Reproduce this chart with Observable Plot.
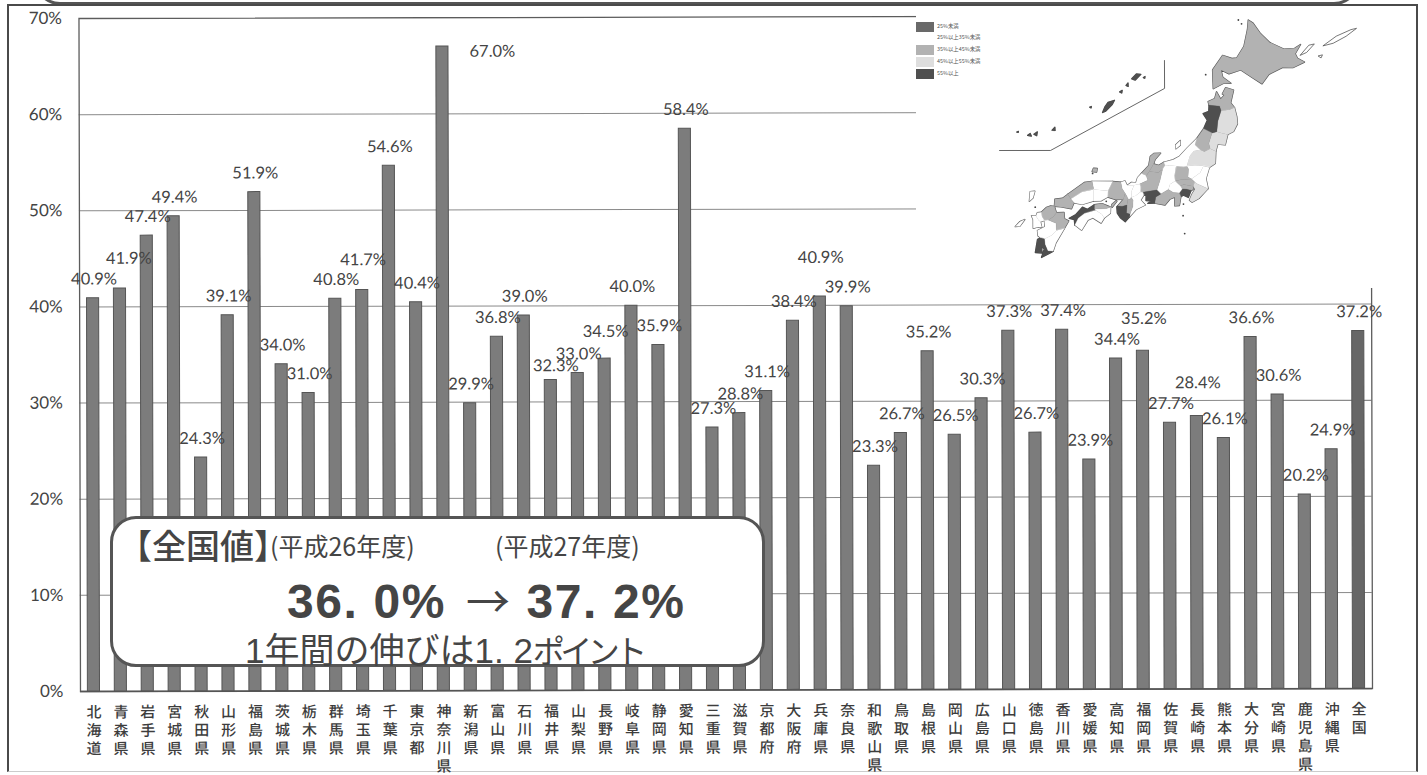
<!DOCTYPE html>
<html lang="ja">
<head>
<meta charset="utf-8">
<script src="https://cdn.jsdelivr.net/npm/d3@7"></script>
<script src="https://cdn.jsdelivr.net/npm/@observablehq/plot@0.6"></script>
<style>
  html, body { margin: 0; background: #fff; }
  #page { position: relative; width: 1427px; height: 775px; overflow: hidden; background: #fff;
          font-family: "Noto Sans CJK JP", sans-serif; color: #444; }
  #page svg { position: absolute; display: block; }
  #chart svg { left: 0; top: 0; transform-origin: 80px 691px; transform: rotate(-0.13deg); }
  #map svg { left: 916px; top: 6px; }
  .sheet { position: absolute; left: 7px; top: 4px; width: 1411px; height: 768px; box-sizing: border-box;
           border: 2px solid #4a4a4a; border-bottom: 1px solid #ccc; }
  .heading { position: absolute; left: 34px; top: -60px; width: 1326px; height: 65px; box-sizing: border-box;
             border: 3px solid #555; border-radius: 26px; background: #fff; }
  .callout { position: absolute; left: 110px; top: 516px; width: 655px; height: 151px; box-sizing: border-box;
             border: 3px solid #555; border-radius: 26px; background: #fff; }
  .note { position: absolute; white-space: pre; line-height: 1; color: #454545; }
  .key { position: absolute; left: 916px; width: 18px; height: 10px; }
  .keytext { position: absolute; left: 937px; font-size: 5.4px; line-height: 1; white-space: pre; color: #555; }
</style>
</head>
<body>
<div id="page">
  <div class="heading"></div>
  <div class="sheet"></div>
  <div id="chart"></div>
  <div id="map"></div>
  <div class="callout"></div>
  <div class="note" style="left:118px;top:528px;font-size:34px;font-weight:500">【全国値<span style="letter-spacing:-17px">】</span></div>
  <div class="note" style="left:270px;top:533px;font-size:25px">(平成26年度)</div>
  <div class="note" style="left:495px;top:533px;font-size:25px">(平成27年度)</div>
  <div class="note" style="left:287px;top:567px;font:bold 48px 'Liberation Sans',sans-serif;letter-spacing:1.6px">36. 0% <span style="font:400 44px 'Noto Sans CJK JP';margin-left:5px">→</span> 37. 2%</div>
  <div class="note" style="left:245px;top:622px;font:400 35px 'Liberation Sans','Noto Sans CJK JP',sans-serif">1年間の伸びは1. 2<span style="font-size:32px;letter-spacing:-4.5px">ポイント</span></div>
</div>
<script>
// Share of prefectural values by prefecture, with the national figure last.
const prefectures = ["北海道","青森県","岩手県","宮城県","秋田県","山形県","福島県","茨城県","栃木県","群馬県","埼玉県","千葉県","東京都","神奈川県","新潟県","富山県","石川県","福井県","山梨県","長野県","岐阜県","静岡県","愛知県","三重県","滋賀県","京都府","大阪府","兵庫県","奈良県","和歌山県","鳥取県","島根県","岡山県","広島県","山口県","徳島県","香川県","愛媛県","高知県","福岡県","佐賀県","長崎県","熊本県","大分県","宮崎県","鹿児島県","沖縄県","全国"];
const rates = [40.9,41.9,47.4,49.4,24.3,39.1,51.9,34.0,31.0,40.8,41.7,54.6,40.4,67.0,29.9,36.8,39.0,32.3,33.0,34.5,40.0,35.9,58.4,27.3,28.8,31.1,38.4,40.9,39.9,23.3,26.7,35.2,26.5,30.3,37.3,26.7,37.4,23.9,34.4,35.2,27.7,28.4,26.1,36.6,30.6,20.2,24.9,37.2];
const yTicks = [0,10,20,30,40,50,60,70];

// Value labels that sit away from the usual spot just above the bar: [dx, dy] in px.
const labelNudges = {"青森県":[8,-11],"埼玉県":[0,-11],"神奈川県":[49,24],"福井県":[4,5],"長野県":[0,-8],"兵庫県":[0,-20],"福岡県":[0,-13],"長崎県":[0,-14]};

// Map classes and their greys.
const classBreaks = [25,35,45,55];
const classGreys = ["#4f4f4f","#ffffff","#b2b2b2","#dedede","#4f4f4f"];
const keyGreys = ["#696969","#ffffff","#b2b2b2","#dedede","#4f4f4f"];
const classNames = ["25%未満","25%以上35%未満","35%以上45%未満","45%以上55%未満","55%以上"];

// Simplified prefecture outlines, "lon,lat" pairs.
const outlines = {
"北海道":"141.65,45.45 142,45.3 142.6,44.75 143.3,44.3 144.3,44 145,44.1 145.35,44.35 145.1,43.8 145.3,43.55 145.8,43.38 145.1,43 144.4,42.95 143.6,42.5 143.25,41.93 142.5,42.25 141.7,42.6 140.97,42.32 140.4,42.5 140.6,42.1 141.2,41.8 140.7,41.75 140.1,41.4 139.85,42.45 140.35,43.33 141,43.2 141.3,43.25 141.65,43.95 141.7,44.9",
"青森県":"140.35,41.25 140.7,40.85 140.9,41.1 140.75,41.15 140.9,41.53 141.45,41.43 141.4,40.7 141.7,40.45 141.4,40.3 140.85,40.2 140.7,40.45 140,40.45 139.9,40.65 140.3,40.85",
"岩手県":"141.7,40.45 141.95,39.95 142.07,39.55 141.9,39.1 141.55,38.9 141.1,38.95 140.8,39 140.75,39.6 140.85,40.2 141.4,40.3",
"宮城県":"141.55,38.9 141.5,38.3 141,38.3 140.95,37.9 140.55,38 140.4,38.3 140.5,38.9 140.8,39 141.1,38.95",
"秋田県":"140,40.45 140.7,40.45 140.85,40.2 140.75,39.6 140.8,39 140.5,38.9 139.9,39.1 140.05,39.6 139.7,39.95 140.05,40.1",
"山形県":"139.9,39.1 140.5,38.9 140.4,38.3 140.55,38 140.2,37.8 139.9,37.9 139.5,38.15 139.55,38.5",
"福島県":"140.95,37.9 141.05,37.2 140.7,36.95 140.3,37 139.7,37 139.2,36.9 139.3,37.5 139.5,37.8 139.9,37.9 140.2,37.8 140.55,38",
"茨城県":"140.7,36.95 140.6,36.3 140.85,35.75 140.1,35.95 139.9,36.05 139.65,36.2 140.15,36.6 140.3,37",
"栃木県":"139.7,37 140.3,37 140.15,36.6 139.65,36.2 139.4,36.3 139.35,36.75 139.2,36.9",
"群馬県":"139.2,36.9 139.35,36.75 139.4,36.3 139.65,36.2 138.95,36.1 138.6,36 138.5,36.3 138.5,36.85 139,36.85",
"埼玉県":"139.65,36.2 139.9,36.05 139.85,35.8 139.2,35.85 139,35.75 138.75,35.9 138.6,36 138.95,36.1",
"千葉県":"140.85,35.75 140.35,35.15 139.95,34.9 139.75,35 139.85,35.35 140,35.65 139.85,35.8 139.9,36.05 140.1,35.95",
"東京都":"139.85,35.8 139.87,35.63 139.75,35.55 139.45,35.6 139.15,35.6 139,35.75 139.2,35.85",
"神奈川県":"139.75,35.55 139.65,35.15 139.3,35.25 139.15,35.15 139,35.35 139.15,35.6 139.45,35.6",
"新潟県":"139.55,38.5 139.5,38.15 139.9,37.9 139.5,37.8 139.3,37.5 139.2,36.9 139,36.85 138.5,36.85 138,36.85 137.75,36.8 137.65,37 138.25,37.2 138.6,37.4 139.05,37.95",
"富山県":"137.65,37 137.35,36.8 137,36.85 136.8,36.4 137.4,36.4 137.65,36.6 137.75,36.8",
"石川県":"136.3,36.25 136.7,36.75 136.7,37.25 136.9,37.45 137.35,37.5 137.05,37.1 137,36.85 136.8,36.4 136.65,36.15",
"福井県":"136.3,36.25 136.65,36.15 136.8,35.9 136.3,35.65 135.95,35.55 135.5,35.5 135.75,35.7 136.05,35.7 136.1,36",
"山梨県":"138.75,35.9 139,35.75 139.15,35.6 139,35.35 138.6,35.35 138.25,35.5 138.3,35.8 138.6,36",
"長野県":"138.5,36.85 138,36.85 137.75,36.8 137.65,36.6 137.6,35.95 137.5,35.4 137.8,35.2 138.25,35.5 138.3,35.8 138.6,36 138.5,36.3",
"岐阜県":"136.65,36.15 136.8,36.4 137.4,36.4 137.65,36.6 137.6,35.95 137.5,35.4 137,35.3 136.6,35.2 136.45,35.2 136.4,35.5 136.3,35.65 136.8,35.9",
"静岡県":"139.15,35.15 139.15,34.65 138.85,34.6 138.75,35.1 138.45,34.95 138.2,34.6 137.5,34.65 137.5,35 137.8,35.2 138.25,35.5 138.6,35.35 139,35.35",
"愛知県":"137.8,35.2 137.5,35 137.5,34.65 137.05,34.6 137.3,34.75 136.9,34.75 136.85,35.05 136.7,35.05 136.6,35.2 137,35.3 137.5,35.4",
"三重県":"136.7,35.05 136.55,34.75 136.9,34.5 136.35,34.2 136,33.75 136,33.9 136.1,34.35 136.05,34.7 135.9,34.85 136.2,35 136.45,35.2 136.6,35.2",
"滋賀県":"136.4,35.5 136.45,35.2 136.2,35 135.9,34.85 135.85,35.2 135.95,35.55 136.3,35.65",
"京都府":"135.95,35.55 135.5,35.5 135.3,35.75 135.05,35.65 135.2,35.3 135.45,35.05 135.6,34.9 135.7,34.75 135.85,34.75 135.9,34.85 135.85,35.2",
"大阪府":"135.45,35.05 135.6,34.9 135.7,34.75 135.7,34.4 135.4,34.3 135.1,34.3 135.4,34.7",
"兵庫県":"134.5,35.65 135.05,35.65 135.2,35.3 135.45,35.05 135.4,34.7 134.9,34.65 134.35,34.75 134.3,35.1",
"奈良県":"135.85,34.75 135.7,34.75 135.7,34.4 135.75,33.95 136,33.9 136.1,34.35 136.05,34.7 135.9,34.85",
"和歌山県":"135.1,34.3 135.4,34.3 135.7,34.4 135.75,33.95 136,33.9 136,33.75 135.77,33.45 135.4,33.65 135.15,33.9 135.05,34.25",
"鳥取県":"133.15,35.55 134.5,35.65 134.3,35.1 133.35,35.1",
"島根県":"131.7,34.7 132.65,35.45 133.15,35.55 133.35,35.1 132.6,34.9 131.95,34.45",
"岡山県":"134.3,35.1 134.35,34.75 133.95,34.5 133.45,34.45 133.35,35.1",
"広島県":"133.35,35.1 133.45,34.45 132.75,34.2 132.2,34.25 131.95,34.45 132.6,34.9",
"山口県":"131.7,34.7 131.95,34.45 132.2,34.25 132.1,33.9 131.4,33.95 130.95,33.95 130.9,34.35 131.4,34.45",
"徳島県":"134.65,34.2 134.7,33.85 134.35,33.55 134.15,33.75 133.7,33.95 133.6,34 134.4,34.1",
"香川県":"134.45,34.25 134.65,34.2 134.4,34.1 133.6,34 133.55,34.25 134.05,34.35",
"愛媛県":"133.6,34 133.7,33.95 133,33.7 132.65,33.4 132.5,33 132.4,33.3 132.05,33.35 132.45,33.6 132.8,34.05 133.15,33.95 133.55,34.25",
"高知県":"133.7,33.95 134.15,33.75 134.35,33.55 134.2,33.25 133.6,33.5 133.3,33.35 133,32.75 132.5,33 132.65,33.4 133,33.7",
"福岡県":"130.95,33.95 131.15,33.6 131,33.35 130.7,33.15 130.45,33.1 130.25,33.3 130.15,33.55 130.45,33.85 130.7,33.95",
"佐賀県":"130.15,33.55 130.25,33.3 130.45,33.1 130.2,33 130.05,33.1 129.85,33.3 129.9,33.5",
"長崎県":"129.85,33.3 130.05,33.1 130.2,33 130.35,32.7 130.1,32.7 129.8,32.6 129.7,33.1 129.55,33.3",
"熊本県":"130.45,33.1 130.7,33.15 131.25,33 131.35,32.6 131.1,32.3 130.65,32.05 130.4,32.1 130.2,32.2 130.1,32.5 130.55,32.75",
"大分県":"131.15,33.6 131.65,33.65 131.75,33.3 132.05,33.2 131.85,32.75 131.35,32.6 131.25,33 130.7,33.15 131,33.35",
"宮崎県":"131.85,32.75 131.45,31.9 131.35,31.4 131,31.4 130.75,31.75 130.65,32.05 131.1,32.3 131.35,32.6",
"鹿児島県":"130.65,32.05 130.75,31.75 131,31.4 131.35,31.4 131.1,31.25 130.66,31 130.75,31.5 130.55,31.6 130.65,31.25 130.2,31.25 130.2,32 130.4,32.1"
};

// Offshore islands that belong to a prefecture's colour class.
const islands = [
["新潟県","138.25,38.05 138.5,38.32 138.55,38.05 138.3,37.82"],
["島根県","133.1,36.3 133.35,36.3 133.35,36.1 133.05,36.1"],
["兵庫県","134.95,34.6 135,34.55 134.75,34.2 134.7,34.35"],
["長崎県","129.2,34.65 129.5,34.7 129.45,34.3 129.25,34.1"],
["長崎県","128.6,32.6 128.85,32.9 129.15,33.05 128.9,32.65"]
];
// The far south is set into a boxed inset; each group carries its offset in degrees.
const okinawaOffset = [5.44,13.38];
const sakishimaOffset = [4.72,13.5];
const insetIslands = [
["鹿児島県",okinawaOffset,"129.2,28.15 129.45,28.45 129.75,28.45 129.45,28.1"],
["鹿児島県",okinawaOffset,"128.9,27.75 129,27.9 129.05,27.7"],
["鹿児島県",okinawaOffset,"128.55,27.35 128.7,27.45 128.7,27.3"],
["鹿児島県",okinawaOffset,"129.95,28.28 130.05,28.35 130.05,28.25"],
["沖縄県",okinawaOffset,"127.65,26.1 127.75,26.45 127.9,26.7 128.3,26.85 128.2,26.6 127.85,26.2"],
["沖縄県",okinawaOffset,"126.75,26.33 126.85,26.38 126.85,26.3"],
["沖縄県",sakishimaOffset,"125.25,24.72 125.4,24.9 125.45,24.72"],
["沖縄県",sakishimaOffset,"124.1,24.4 124.3,24.55 124.3,24.33"],
["沖縄県",sakishimaOffset,"123.7,24.3 123.85,24.42 123.95,24.28"],
["沖縄県",sakishimaOffset,"122.95,24.43 123.05,24.48 123.05,24.42"]
];
// Drawn white, outside the colour classes.
const northernIslands = [
"145.45,43.75 145.9,44.35 146.25,44.45 145.85,43.95",
"146.85,44.4 147.6,45 148.5,45.45 148.85,45.55 148.25,45.05 147.5,44.6",
"146.65,43.8 146.9,43.88 146.85,43.72"
];
const smallIslands = [[141.25,45.2],[141,45.4],[139.45,42.15],[133.1,36],[129.7,33.8],[134.3,34.5],[139.4,34.75],[139.5,34.1],[139.8,33.1]];
// Boundary of the southern inset.
const insetFrame = [[136.59,42.73],[136.9,41.16],[130.09,37.07],[126.74,36.8]];

const ring = s => { const r = s.split(" ").map(p => p.split(",").map(Number)); r.push(r[0]); return r; };
const shifted = (s, [dl, da]) => ring(s).map(([lo, la]) => [lo + dl, la + da]);
const rateOf = new Map(prefectures.map((p, i) => [p, rates[i]]));

const prefFeatures = Object.entries(outlines).concat([["沖縄県", null]]).map(([name, s]) => {
  const polys = s ? [[ring(s)]] : [];
  for (const [n, i] of islands) if (n === name) polys.push([ring(i)]);
  for (const [n, off, i] of insetIslands) if (n === name) polys.push([shifted(i, off)]);
  return {type: "Feature", properties: {name, rate: rateOf.get(name)}, geometry: {type: "MultiPolygon", coordinates: polys}};
});
const whiteFeatures = northernIslands.map(s => ({type: "Polygon", coordinates: [ring(s)]}));

// Bar chart.
const rows = prefectures.map((name, i) => ({name, rate: rates[i]}));
const numberFont = "Lato, 'Open Sans', sans-serif";
const valueLabels = rows.map(r => {
  const [dx, dy] = labelNudges[r.name] ?? [0, 0];
  return Plot.text([r], {
    x: "name", y: "rate", text: d => d.rate.toFixed(1) + "%",
    dx: dx + 1, dy: dy - 19, fontSize: 16.5, fontFamily: numberFont, fill: "#444"
  });
});

const chart = Plot.plot({
  width: 1427, height: 775,
  marginLeft: 80, marginRight: 55, marginTop: 18, marginBottom: 84,
  style: {background: "transparent", overflow: "visible"},
  x: {type: "band", domain: prefectures, paddingInner: 0.55, paddingOuter: 0.275, align: 0.5, label: null},
  y: {domain: [0, 70], ticks: yTicks, label: null},
  marks: [
    Plot.ruleY(yTicks.slice(1, -1), {stroke: "#8a8a8a", strokeWidth: 1}),
    Plot.frame({stroke: "#5c5c5c", strokeWidth: 1.3}),
    Plot.ruleY([0], {stroke: "#555", strokeWidth: 1.6}),
    Plot.barY(rows, {x: "name", y: "rate", fill: d => d.name === "全国" ? "#676767" : "#7c7c7c", stroke: "#555", strokeWidth: 1}),
    ...valueLabels,
    Plot.axisY(yTicks, {tickSize: 0, tickPadding: 17, tickFormat: d => d + "%", fontSize: 17, fontFamily: numberFont, fill: "#444", label: null}),
    Plot.axisX({tickSize: 0, tickPadding: 13, tickFormat: d => [...d].join("\n"), fontSize: 15, fontWeight: 500, lineHeight: 1.22, fontFamily: "Noto Sans CJK JP", fill: "#3d3d3d", label: null})
  ]
});
document.getElementById("chart").append(chart);

// Inset map, drawn with a sheared planar projection so the archipelago leans as it does on the sheet.
const mapProjection = d3.geoTransform({
  point(lon, lat) {
    this.stream.point(125 + 15 * (lon - 130.66) + 2.9 * (lat - 31), 251 + 1.4 * (lon - 130.66) - 17.5 * (lat - 31));
  }
});
const mapPlot = Plot.plot({
  width: 500, height: 282, margin: 0,
  projection: mapProjection,
  style: {background: "#fff"},
  color: {type: "threshold", domain: classBreaks, range: classGreys},
  marks: [
    Plot.geo(prefFeatures, {stroke: "#4a4a4a", strokeWidth: 1.3, fill: "none"}),
    Plot.geo(prefFeatures, {fill: d => d.properties.rate, stroke: d => d.properties.rate, strokeWidth: 0.3}),
    Plot.geo(whiteFeatures, {fill: "#fff", stroke: "#555", strokeWidth: 0.8}),
    Plot.dot(smallIslands, {x: "0", y: "1", r: 0.9, fill: "#444"}),
    Plot.geo({type: "LineString", coordinates: insetFrame}, {stroke: "#555", strokeWidth: 0.9, fill: "none"})
  ]
});
document.getElementById("map").append(mapPlot);

// Map key.
const page = document.getElementById("page");
const keyTops = [22, 33, 45, 57, 69];
classNames.forEach((name, i) => {
  const swatch = document.createElement("div");
  swatch.className = "key";
  swatch.style.top = keyTops[i] + "px";
  swatch.style.background = keyGreys[i];
  page.append(swatch);
  const text = document.createElement("div");
  text.className = "keytext";
  text.style.top = (keyTops[i] + 2) + "px";
  text.textContent = name;
  page.append(text);
});
</script>
</body>
</html>
